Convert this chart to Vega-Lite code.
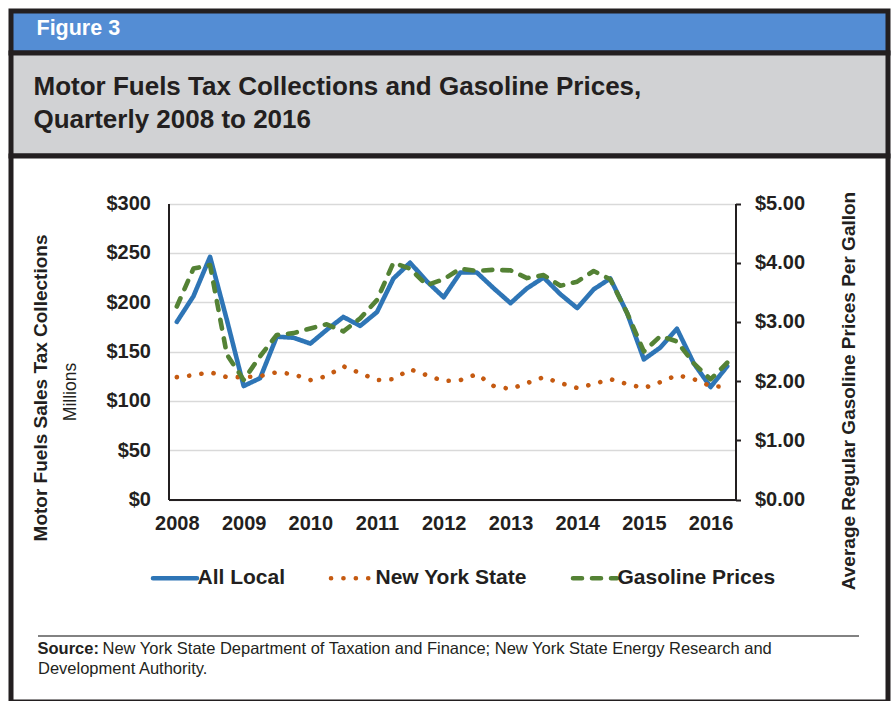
{
  "$schema": "https://vega.github.io/schema/vega-lite/v6.json",
  "background": "white",
  "padding": {"left": 8, "top": 8, "right": 0, "bottom": 0},
  "spacing": 0,
  "bounds": "flush",
  "config": {"font": "Liberation Sans", "view": {"stroke": null}},
  "vconcat": [
    {
      "width": 877,
      "height": 42,
      "title": {"text": "Figure 3", "orient": "top", "anchor": "start", "frame": "group", "offset": -48, "dx": 25.5, "baseline": "alphabetic", "fontSize": 21.5, "fontWeight": "bold", "color": "white"},
      "data": {"values": [{"panel": "Figure 3"}]},
      "mark": {"type": "rect", "fill": "#548DD4", "stroke": "#231F20", "strokeWidth": 5},
      "encoding": {}
    },
    {
      "width": 877,
      "height": 103,
      "title": {"text": ["Motor Fuels Tax Collections and Gasoline Prices,", "Quarterly 2008 to 2016"], "orient": "top", "anchor": "start", "frame": "group", "offset": -103.5, "dx": 22.5, "baseline": "alphabetic", "fontSize": 26, "fontWeight": "bold", "color": "#231F20", "lineHeight": 33},
      "data": {"values": [{"panel": "title"}]},
      "mark": {"type": "rect", "fill": "#D1D2D4", "stroke": "#231F20", "strokeWidth": 5},
      "encoding": {}
    },
    {
      "width": 877,
      "height": 546,
      "view": {"fill": "white", "stroke": "#231F20", "strokeWidth": 5},
      "title": {"text": "Source:", "orient": "top", "anchor": "start", "frame": "group", "offset": -514, "dx": 26.5, "baseline": "alphabetic", "fontSize": 16.5, "fontWeight": "bold", "color": "#231F20"},
      "data": {"values": [
        {"date": "2008-01-01", "All Local": 180, "New York State": 124, "Gasoline Prices": 3.26},
        {"date": "2008-04-01", "All Local": 206, "New York State": 126, "Gasoline Prices": 3.90},
        {"date": "2008-07-01", "All Local": 246, "New York State": 129, "Gasoline Prices": 3.96},
        {"date": "2008-10-01", "All Local": 182, "New York State": 124, "Gasoline Prices": 2.45},
        {"date": "2009-01-01", "All Local": 115, "New York State": 124, "Gasoline Prices": 2.02},
        {"date": "2009-04-01", "All Local": 123, "New York State": 125, "Gasoline Prices": 2.42},
        {"date": "2009-07-01", "All Local": 165, "New York State": 129, "Gasoline Prices": 2.78},
        {"date": "2009-10-01", "All Local": 164, "New York State": 127, "Gasoline Prices": 2.81},
        {"date": "2010-01-01", "All Local": 158, "New York State": 121, "Gasoline Prices": 2.89},
        {"date": "2010-04-01", "All Local": 172, "New York State": 125, "Gasoline Prices": 2.96},
        {"date": "2010-07-01", "All Local": 185, "New York State": 135, "Gasoline Prices": 2.84},
        {"date": "2010-10-01", "All Local": 176, "New York State": 128, "Gasoline Prices": 3.06},
        {"date": "2011-01-01", "All Local": 190, "New York State": 121, "Gasoline Prices": 3.37},
        {"date": "2011-04-01", "All Local": 224, "New York State": 122, "Gasoline Prices": 4.00},
        {"date": "2011-07-01", "All Local": 240, "New York State": 132, "Gasoline Prices": 3.90},
        {"date": "2011-10-01", "All Local": 221, "New York State": 126, "Gasoline Prices": 3.62},
        {"date": "2012-01-01", "All Local": 205, "New York State": 120, "Gasoline Prices": 3.72},
        {"date": "2012-04-01", "All Local": 230, "New York State": 121, "Gasoline Prices": 3.90},
        {"date": "2012-07-01", "All Local": 230, "New York State": 127, "Gasoline Prices": 3.86},
        {"date": "2012-10-01", "All Local": 214, "New York State": 115, "Gasoline Prices": 3.88},
        {"date": "2013-01-01", "All Local": 199, "New York State": 112, "Gasoline Prices": 3.87},
        {"date": "2013-04-01", "All Local": 214, "New York State": 118, "Gasoline Prices": 3.74},
        {"date": "2013-07-01", "All Local": 225, "New York State": 124, "Gasoline Prices": 3.79},
        {"date": "2013-10-01", "All Local": 208, "New York State": 118, "Gasoline Prices": 3.61},
        {"date": "2014-01-01", "All Local": 194, "New York State": 113, "Gasoline Prices": 3.68},
        {"date": "2014-04-01", "All Local": 213, "New York State": 117, "Gasoline Prices": 3.86},
        {"date": "2014-07-01", "All Local": 224, "New York State": 122, "Gasoline Prices": 3.72},
        {"date": "2014-10-01", "All Local": 189, "New York State": 117, "Gasoline Prices": 3.15},
        {"date": "2015-01-01", "All Local": 142, "New York State": 113, "Gasoline Prices": 2.50},
        {"date": "2015-04-01", "All Local": 154, "New York State": 119, "Gasoline Prices": 2.76},
        {"date": "2015-07-01", "All Local": 173, "New York State": 126, "Gasoline Prices": 2.67},
        {"date": "2015-10-01", "All Local": 138, "New York State": 122, "Gasoline Prices": 2.30},
        {"date": "2016-01-01", "All Local": 114, "New York State": 115, "Gasoline Prices": 2.03},
        {"date": "2016-04-01", "All Local": 135, "New York State": 114, "Gasoline Prices": 2.31}
      ]},
      "layer": [
        {
          "transform": [{"fold": ["All Local", "New York State"], "as": ["series", "value"]}],
          "mark": {"type": "line", "strokeWidth": 4.6, "strokeCap": "round", "strokeJoin": "round"},
          "encoding": {
            "x": {"field": "date", "type": "temporal",
              "scale": {"type": "utc", "domain": [{"year": 2007, "month": 11, "date": 16, "hours": 12, "utc": true}, {"year": 2016, "month": 5, "date": 16, "hours": 12, "utc": true}], "range": [157.5, 724.5]},
              "axis": {"orient": "bottom", "offset": -202.5, "format": "%Y", "formatType": "utc", "tickCount": {"interval": "year", "step": 1}, "grid": false, "ticks": false, "tickSize": 0, "domainColor": "#231F20", "domainWidth": 2, "labelFontSize": 20, "labelFontWeight": "bold", "labelColor": "#231F20", "labelPadding": 14, "labelFlush": false, "labelOverlap": false, "title": null}},
            "y": {"field": "value", "type": "quantitative",
              "scale": {"domain": [0, 300], "range": [343.5, 47.5], "nice": false, "zero": false},
              "axis": {"orient": "left", "offset": -157.5, "values": [0, 50, 100, 150, 200, 250, 300], "format": "$.0f", "grid": true, "gridColor": "#D9D9D9", "gridWidth": 1.5, "ticks": false, "tickSize": 0, "domainColor": "#231F20", "domainWidth": 2, "labelFontSize": 20, "labelFontWeight": "bold", "labelColor": "#231F20", "labelPadding": 18, "title": "Motor Fuels Sales Tax Collections", "titleFontSize": 19, "titleFontWeight": "bold", "titleColor": "#231F20", "titleAngle": 270, "titleX": -128, "titleY": 231.5, "titleAlign": "center", "titleBaseline": "middle"}},
            "color": {"field": "series", "type": "nominal",
              "scale": {"domain": ["All Local", "New York State", "Gasoline Prices"], "range": ["#2E75B6", "#C55A11", "#548235"]},
              "legend": {"orient": "none", "legendX": 139.5, "legendY": 542.5, "direction": "horizontal", "title": null, "symbolType": "stroke", "symbolSize": 1936, "symbolStrokeWidth": 4.6, "labelFontSize": 21, "labelFontWeight": "bold", "labelColor": "#231F20", "labelOffset": -2, "columnPadding": 36, "encode": {"symbols": {"update": {"strokeCap": {"value": "round"}}}}}},
            "strokeDash": {"field": "series", "type": "nominal",
              "scale": {"domain": ["All Local", "New York State", "Gasoline Prices"], "range": [[1, 0], [0.1, 12.3], [9, 10]]}}
          }
        },
        {
          "transform": [{"fold": ["Gasoline Prices"], "as": ["series", "value"]}],
          "mark": {"type": "line", "strokeWidth": 4.6, "strokeCap": "round", "strokeJoin": "round"},
          "encoding": {
            "x": {"field": "date", "type": "temporal",
              "scale": {"type": "utc", "domain": [{"year": 2007, "month": 11, "date": 16, "hours": 12, "utc": true}, {"year": 2016, "month": 5, "date": 16, "hours": 12, "utc": true}], "range": [157.5, 724.5]},
              "axis": {"orient": "bottom", "offset": -66.5, "domain": false, "labels": false, "ticks": false, "tickSize": 0, "grid": false, "title": "Development Authority.", "titleX": 26.5, "titleY": 38, "titleAlign": "left", "titleBaseline": "alphabetic", "titleFontSize": 16.5, "titleFontWeight": "normal", "titleColor": "#231F20"}},
            "y": {"field": "value", "type": "quantitative",
              "scale": {"domain": [0, 5], "range": [343.5, 47.5], "nice": false, "zero": false},
              "axis": {"orient": "right", "offset": -152.5, "values": [0, 1, 2, 3, 4, 5], "format": "$.2f", "grid": false, "ticks": true, "tickSize": 5, "tickColor": "#231F20", "tickWidth": 2, "domainColor": "#231F20", "domainWidth": 2, "labelFontSize": 20, "labelFontWeight": "bold", "labelColor": "#231F20", "labelPadding": 14, "title": "Average Regular Gasoline Prices Per Gallon", "titleFontSize": 19, "titleFontWeight": "bold", "titleColor": "#231F20", "titleAngle": 270, "titleX": 113, "titleY": 234.5, "titleAlign": "center", "titleBaseline": "middle"}},
            "color": {"field": "series", "type": "nominal"},
            "strokeDash": {"field": "series", "type": "nominal"}
          }
        },
        {
          "data": {"values": []},
          "mark": {"type": "point"},
          "encoding": {
            "x": {"field": "s", "type": "quantitative",
              "scale": {"domain": [0, 1], "range": [26.5, 847.5]},
              "axis": {"orient": "bottom", "offset": -66.5, "domainColor": "#595959", "domainWidth": 1.5, "labels": false, "ticks": false, "tickSize": 0, "grid": false, "title": "New York State Department of Taxation and Finance; New York State Energy Research and", "titleX": 91, "titleY": 18, "titleAlign": "left", "titleBaseline": "alphabetic", "titleFontSize": 16.5, "titleFontWeight": "normal", "titleColor": "#231F20"}},
            "y": {"field": "s2", "type": "quantitative",
              "scale": {"domain": [0, 1]},
              "axis": {"orient": "left", "offset": 0, "domain": false, "labels": false, "ticks": false, "tickSize": 0, "grid": false, "title": "Millions", "titleFontSize": 17.5, "titleFontWeight": "normal", "titleColor": "#231F20", "titleAngle": 270, "titleX": 59.5, "titleY": 235.5, "titleAlign": "center", "titleBaseline": "middle"}}
          }
        }
      ],
      "resolve": {"scale": {"x": "independent", "y": "independent"}}
    }
  ]
}
